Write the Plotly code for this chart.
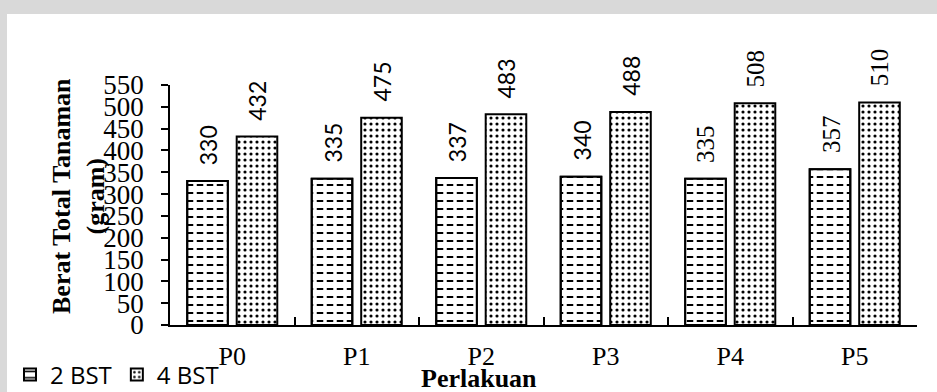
import plotly.graph_objects as go

# Perlakuan (treatments) and total plant weight in grams at 2 and 4 BST
categories = ["P0", "P1", "P2", "P3", "P4", "P5"]
bst2 = [330, 335, 337, 340, 335, 357]
bst4 = [432, 475, 483, 488, 508, 510]
y_ticks = list(range(0, 551, 50))

# value-label typeface for each treatment group
label_fonts = ["Lato", "Lato", "Lato", "Lato", "Liberation Serif", "Liberation Serif"]

SERIF = "Liberation Serif"
W, H = 937, 392
L, R, T, B = 170, 20, 85, 67
pw, ph = W - L - R, H - T - B


def px_x(x):
    return (x - L) / pw


def px_y(y):
    return (H - B - y) / ph


fig = go.Figure()

# 2 BST: black horizontal stripes, cut into dashes by a white vertical-stripe layer
fig.add_trace(go.Bar(
    x=categories, y=bst2, name="2 BST", offsetgroup="a",
    marker=dict(color="white", line=dict(color="black", width=2),
                pattern=dict(shape="-", fgcolor="black", bgcolor="white",
                             size=8, solidity=0.25, fillmode="replace")),
))
fig.add_trace(go.Bar(
    x=categories, y=bst2, offsetgroup="a", showlegend=False, hoverinfo="skip",
    marker=dict(color="rgba(0,0,0,0)", line=dict(width=0),
                pattern=dict(shape="|", fgcolor="white", bgcolor="rgba(0,0,0,0)",
                             size=10, solidity=0.35, fillmode="replace")),
))
fig.add_trace(go.Bar(
    x=categories, y=bst2, offsetgroup="a", showlegend=False, hoverinfo="skip",
    marker=dict(color="rgba(0,0,0,0)", line=dict(color="black", width=2)),
))
# 4 BST: dotted fill
fig.add_trace(go.Bar(
    x=categories, y=bst4, name="4 BST", offsetgroup="b",
    marker=dict(color="white", line=dict(color="black", width=2),
                pattern=dict(shape=".", fgcolor="black", bgcolor="white",
                             size=6, solidity=0.22, fillmode="replace")),
))

annotations = []
# value labels above each bar, rotated
for xs, vals in ((-24, bst2), (25, bst4)):
    for c, v, fam in zip(categories, vals, label_fonts):
        size = 23 if fam == "Lato" else 25
        annotations.append(dict(
            x=c, y=v, xref="x", yref="y", text=str(v), showarrow=False,
            textangle=-90, xanchor="center", yanchor="bottom",
            xshift=xs, yshift=14, font=dict(family=fam, size=size, color="black"),
        ))

# axis titles
annotations.append(dict(
    x=px_x(78), y=px_y(196), xref="paper", yref="paper",
    text="<b>Berat Total Tanaman</b><br><b>(gram)</b>", showarrow=False,
    textangle=-90, xanchor="center", yanchor="middle",
    font=dict(family=SERIF, size=26, color="black"),
))
annotations.append(dict(
    x=px_x(479), y=px_y(378), xref="paper", yref="paper",
    text="<b>Perlakuan</b>", showarrow=False,
    xanchor="center", yanchor="middle",
    font=dict(family=SERIF, size=26, color="black"),
))

shapes = [
    dict(type="rect", xref="paper", yref="paper", x0=px_x(0), x1=px_x(W),
         y0=px_y(14), y1=px_y(0), fillcolor="#d9d9d9", line=dict(width=0), layer="below"),
    dict(type="rect", xref="paper", yref="paper", x0=px_x(0), x1=px_x(7),
         y0=px_y(H), y1=px_y(14), fillcolor="#d9d9d9", line=dict(width=0), layer="below"),
]

fig.update_layout(
    width=W, height=H,
    margin=dict(l=L, r=R, t=T, b=B, pad=0, autoexpand=False),
    paper_bgcolor="white", plot_bgcolor="white",
    barmode="group", bargap=0.205, bargroupgap=0.18,
    font=dict(family=SERIF, color="black"),
    annotations=annotations, shapes=shapes,
    legend=dict(orientation="h", x=px_x(10), y=px_y(375), xanchor="left", yanchor="middle",
                font=dict(family="Open Sans", size=24, color="black"),
                itemwidth=30, bgcolor="rgba(0,0,0,0)", traceorder="normal"),
    xaxis=dict(showline=True, linecolor="black", linewidth=1.5, ticks="inside",
               tickson="boundaries", ticklen=8, tickcolor="black", tickwidth=1.5,
               tickfont=dict(family=SERIF, size=26), ticklabelstandoff=7,
               showgrid=False, zeroline=False),
    yaxis=dict(range=[0, 550], tickvals=y_ticks, showline=True, linecolor="black",
               linewidth=1.5, ticks="outside", ticklen=7, tickcolor="black", tickwidth=1.5,
               tickfont=dict(family=SERIF, size=27), ticklabelstandoff=12,
               showgrid=False, zeroline=False),
)

fig.write_html("out.html")
